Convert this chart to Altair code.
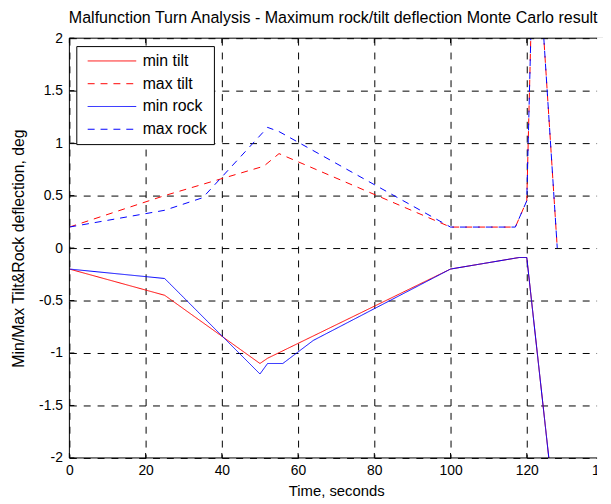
import altair as alt
import pandas as pd

# ---------------- data ----------------
series_names = ["min tilt", "max tilt", "min rock", "max rock"]
series_colors = ["#ff0000", "#ff0000", "#0000ff", "#0000ff"]
series_dashes = [[1, 0], [7, 6], [1, 0], [7, 6]]

min_tilt_t = [0, 25, 50, 52, 100, 118, 120, 128]
min_tilt_v = [-0.2, -0.45, -1.1, -1.05, -0.2, -0.09, -0.09, -2.73]

max_tilt_t = [0, 25, 51, 55, 100, 117, 120, 122, 128]
max_tilt_v = [0.2, 0.5, 0.78, 0.9, 0.2, 0.2, 0.45, 3.4, 0.0]

min_rock_t = [0, 25, 50, 52, 56, 64, 100, 118, 120, 128]
min_rock_v = [-0.2, -0.29, -1.2, -1.1, -1.1, -0.88, -0.2, -0.09, -0.09, -2.73]

max_rock_t = [0, 25, 35, 52, 55, 100, 117, 120, 122, 128]
max_rock_v = [0.2, 0.36, 0.48, 1.15, 1.11, 0.2, 0.2, 0.45, 3.4, 0.0]

x_ticks = [0, 20, 40, 60, 80, 100, 120, 140]
y_ticks = [-2, -1.5, -1, -0.5, 0, 0.5, 1, 1.5, 2]

title_text = "Malfunction Turn Analysis - Maximum rock/tilt deflection Monte Carlo result"
x_title = "Time, seconds"
y_title = "Min/Max Tilt&Rock deflection, deg"

# ---------------- build table ----------------
rows = []
for name, ts, vs in zip(series_names,
                        [min_tilt_t, max_tilt_t, min_rock_t, max_rock_t],
                        [min_tilt_v, max_tilt_v, min_rock_v, max_rock_v]):
    for k, (t, v) in enumerate(zip(ts, vs)):
        rows.append({"series": name, "t": t, "v": v, "k": k})
df = pd.DataFrame(rows)

W, H = 539, 424
FONT = "Liberation Sans"

x_scale = alt.Scale(domain=[0, 140], nice=False, zero=False)
y_scale = alt.Scale(domain=[-2, 2], nice=False, zero=False)

x_axis = alt.Axis(
    values=x_ticks, title=x_title, grid=True, gridDash=[7, 7], gridColor="black",
    gridWidth=1, domain=False, ticks=False, labelFontSize=14, labelFont=FONT,
    labelColor="black", labelPadding=6, labelFlush=False, labelOverlap=False,
    titleFont=FONT, titleFontSize=15, titleFontWeight="normal", titleColor="black",
    titleX=W / 2, titleY=33, titleBaseline="middle", titleAlign="center",
)
y_axis = alt.Axis(
    values=y_ticks, title=y_title, grid=True, gridDash=[7, 7], gridColor="black",
    gridWidth=1, domain=False, ticks=False, labelFontSize=14, labelFont=FONT,
    labelColor="black", labelPadding=7, labelFlush=False, labelOverlap=False,
    labelExpr="datum.value + ''",
    titleFont=FONT, titleFontSize=16, titleFontWeight="normal", titleColor="black",
    titleX=-51, titleY=H / 2, titleAngle=270, titleBaseline="middle", titleAlign="center",
)

legend = alt.Legend(
    title=None, orient="none", legendX=7, legendY=8, fillColor="white",
    strokeColor="black", padding=7, labelFontSize=16, labelFont=FONT,
    labelColor="black", symbolSize=2401, symbolStrokeWidth=1, symbolType="stroke",
    clipHeight=16, rowPadding=7, labelOffset=6, symbolOffset=4,
)

color = alt.Color("series:N", scale=alt.Scale(domain=series_names, range=series_colors), legend=legend)
dash = alt.StrokeDash("series:N", scale=alt.Scale(domain=series_names, range=series_dashes), legend=legend)

base = alt.Chart(df)
line_layers = [
    base.transform_filter(alt.datum.series == name)
    .mark_line(strokeWidth=1, clip=True)
    .encode(
        x=alt.X("t:Q", scale=x_scale, axis=x_axis),
        y=alt.Y("v:Q", scale=y_scale, axis=y_axis),
        color=color, strokeDash=dash, order="k:Q",
    )
    for name in series_names
]

xt = alt.Chart(pd.DataFrame({"t": x_ticks}))
bottom_ticks = xt.mark_rule(color="black", strokeWidth=1).encode(
    x=alt.X("t:Q", scale=x_scale, axis=x_axis), y=alt.value(H - 5), y2=alt.value(H))
top_ticks = xt.mark_rule(color="black", strokeWidth=1).encode(
    x=alt.X("t:Q", scale=x_scale, axis=x_axis), y=alt.value(0), y2=alt.value(5))
yt = alt.Chart(pd.DataFrame({"v": y_ticks}))
left_ticks = yt.mark_rule(color="black", strokeWidth=1).encode(
    y=alt.Y("v:Q", scale=y_scale, axis=y_axis), x=alt.value(0), x2=alt.value(5))

one = alt.Chart(pd.DataFrame({"a": [0]}))
frame = one.mark_rect(filled=False, stroke="black", strokeWidth=1).encode(
    x=alt.value(0), x2=alt.value(W), y=alt.value(0), y2=alt.value(H))
crop = one.mark_rect(color="white", filled=True).encode(
    x=alt.value(533), x2=alt.value(W + 30), y=alt.value(-1), y2=alt.value(H + 45))

chart = alt.layer(*line_layers, bottom_ticks, top_ticks, left_ticks, frame, crop).properties(
    width=W, height=H,
    title=alt.TitleParams(title_text, font=FONT, fontSize=16.2, fontWeight="normal",
                          color="black", anchor="middle", frame="group",
                          baseline="bottom", offset=7, dy=18, dx=-3),
    autosize=alt.AutoSizeParams(type="none"),
    padding={"left": 62, "top": 28, "right": 0, "bottom": 40},
    background="white",
).configure_view(stroke=None)

chart.save("out.html", embed_options={"renderer": "svg", "actions": False})
